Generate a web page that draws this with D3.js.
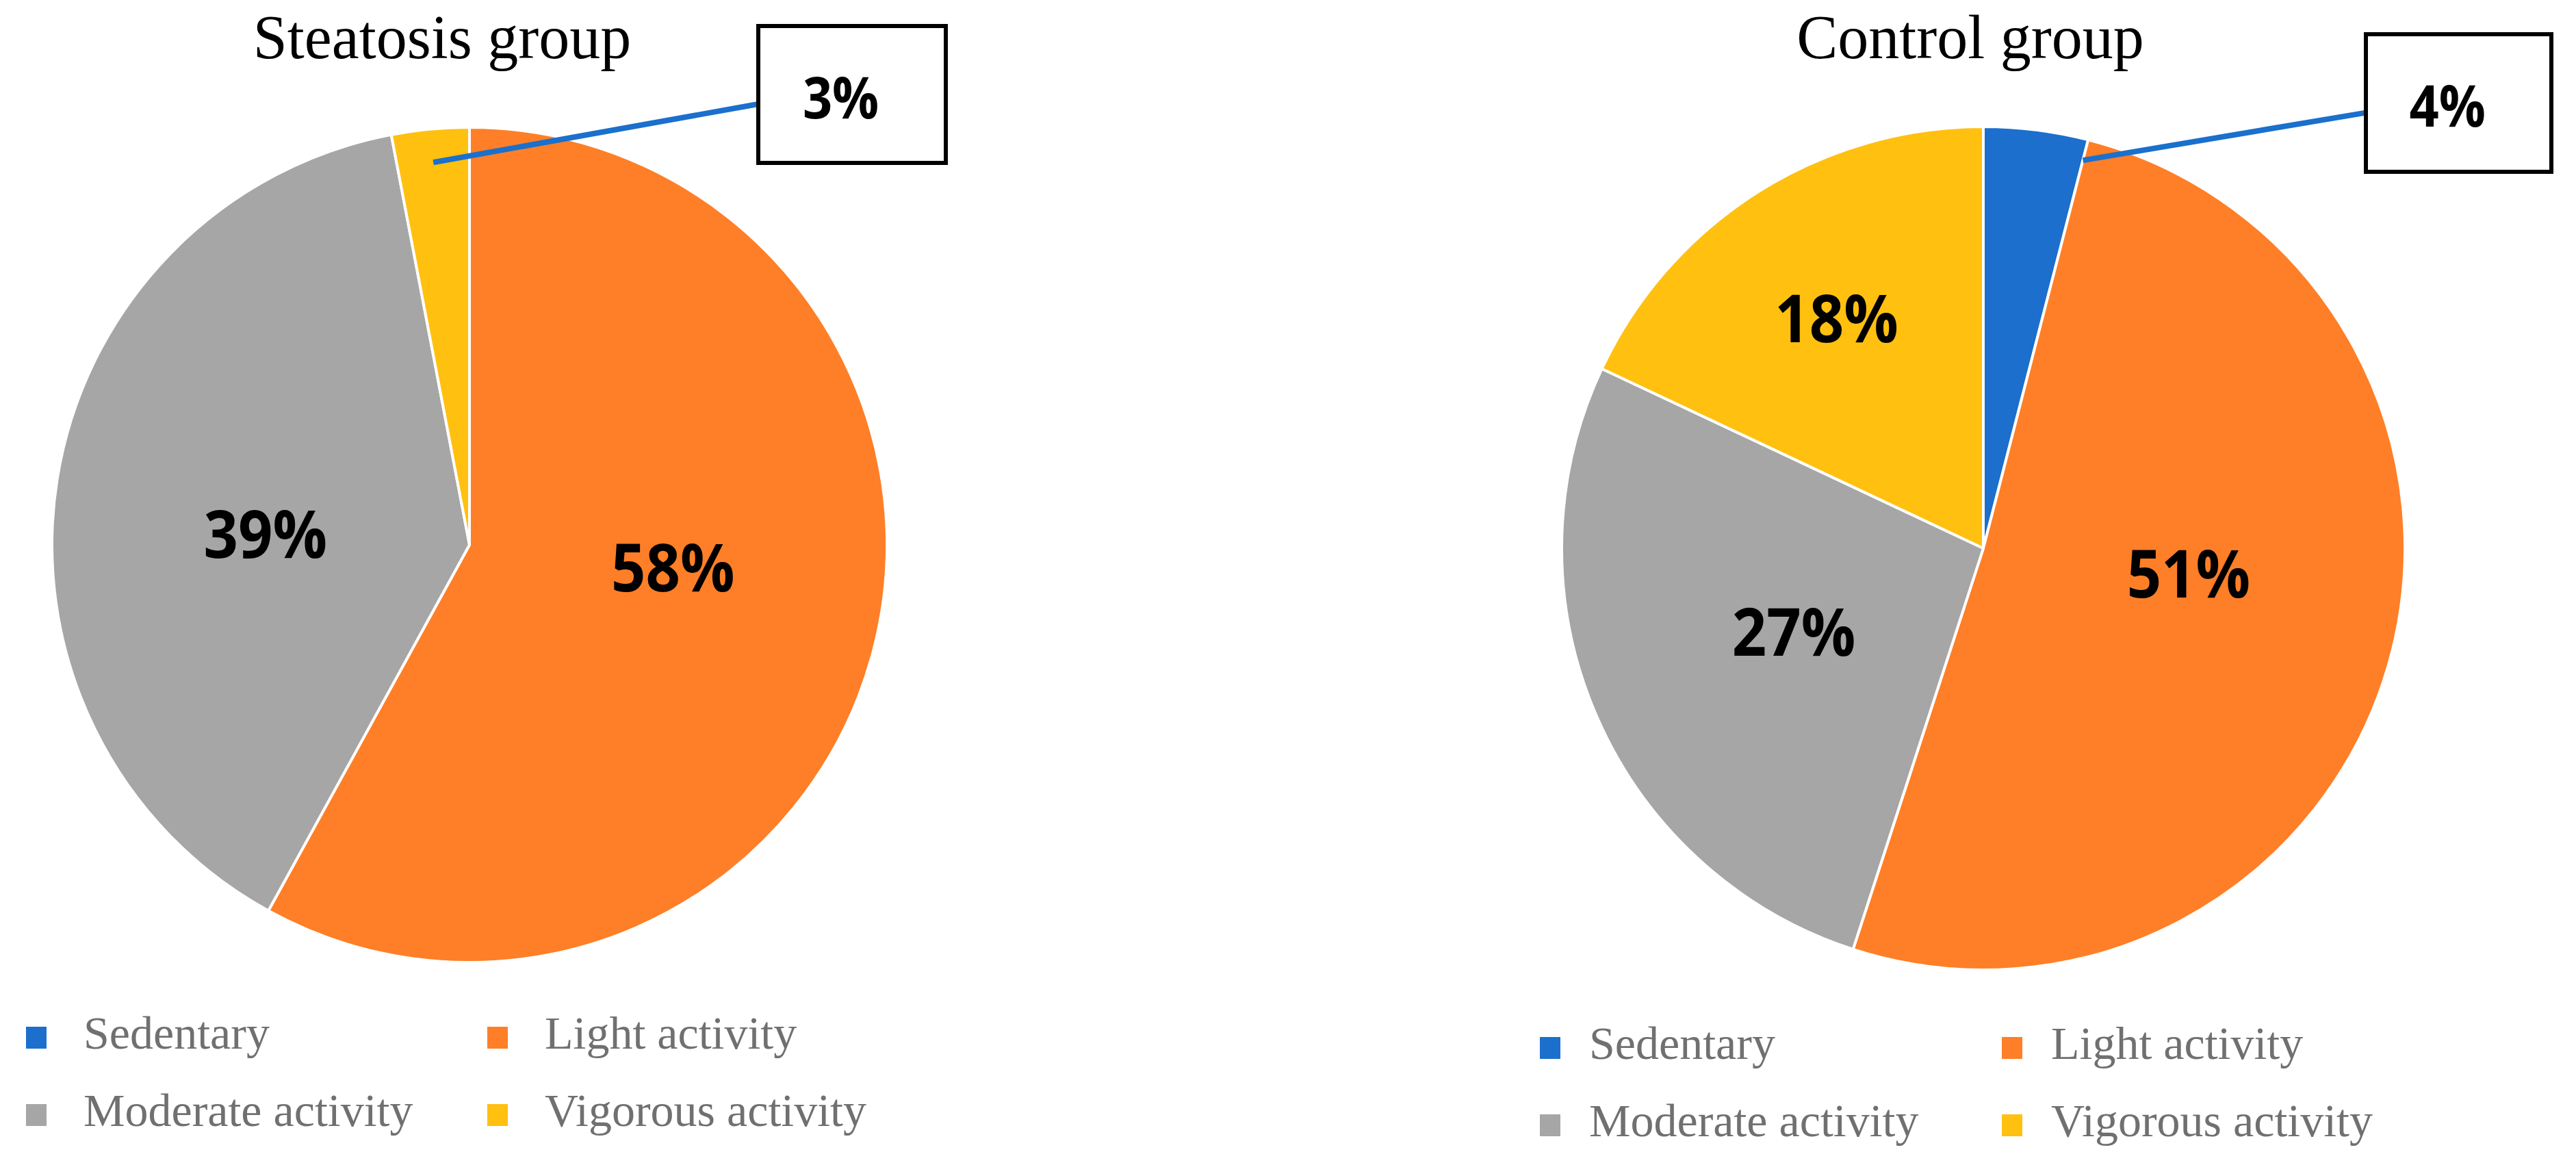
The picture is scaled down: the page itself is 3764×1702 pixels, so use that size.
<!DOCTYPE html>
<html>
<head>
<meta charset="utf-8">
<script src="https://cdn.jsdelivr.net/npm/d3@7/dist/d3.min.js"></script>
<style>
  html, body { margin: 0; padding: 0; background: #fff; }
  svg { display: block; }
</style>
</head>
<body>
<div id="chart"></div>
<script>
// data
const categories = ["Sedentary", "Light activity", "Moderate activity", "Vigorous activity"];
const groupTitles = ["Steatosis group", "Control group"];
const steatosisValues = [0, 58, 39, 3];
const controlValues = [4, 51, 27, 18];
const colors = ["#1c6fcc", "#fe7f27", "#a6a6a6", "#ffc010"];

const width = 3764, height = 1702;

// layout of the two panels
const panels = [
  {title: groupTitles[0], values: steatosisValues, cx: 686, cy: 796, r: 610, titleX: 646,
   box: {x: 1108, y: 38, w: 274, h: 200}, anchor: {t: 0.5, k: 0.92},
   legend: {cols: [38, 712], rows: [1516, 1629], textGap: 84}},
  {title: groupTitles[1], values: controlValues, cx: 2898, cy: 801, r: 616, titleX: 2879,
   box: {x: 3457, y: 50, w: 271, h: 201}, anchor: {t: 1.0, k: 0.95},
   legend: {cols: [2250, 2925], rows: [1531, 1644], textGap: 72}}
];

const svg = d3.select("#chart").append("svg")
  .attr("width", width)
  .attr("height", height);

const color = d3.scaleOrdinal().domain(categories).range(colors);

const pie = d3.pie().sort(null).value(d => d.value);

function squeeze(sel, f) {
  sel.each(function() {
    const n = this.getComputedTextLength();
    d3.select(this).attr("textLength", n * f).attr("lengthAdjust", "spacingAndGlyphs");
  });
}

panels.forEach(p => {
  const data = categories.map((c, i) => ({cat: c, value: p.values[i]}));
  const arcs = pie(data);
  const total = d3.sum(p.values);

  const g = svg.append("g").attr("transform", "translate(" + p.cx + "," + p.cy + ")");

  const arc = d3.arc().innerRadius(0).outerRadius(p.r);

  g.selectAll("path")
    .data(arcs.filter(d => d.data.value > 0))
    .enter().append("path")
    .attr("d", arc)
    .attr("fill", d => color(d.data.cat))
    .attr("stroke", "#fff")
    .attr("stroke-width", 4)
    .attr("stroke-linejoin", "round");

  // inner percentage labels (big slices pulled toward the horizontal, like Excel's best fit)
  arcs.filter(d => d.data.value / total >= 0.05).forEach(d => {
    const share = d.data.value / total;
    const k = share < 0.2 ? 0.65 : 0.49;
    let a = (d.startAngle + d.endAngle) / 2;
    if (share > 0.3) {
      const h = a < Math.PI ? Math.PI / 2 : 3 * Math.PI / 2;
      a = a + (h - a) * 0.6;
    }
    g.append("text")
      .attr("x", Math.sin(a) * p.r * k)
      .attr("y", -Math.cos(a) * p.r * k)
      .attr("text-anchor", "middle")
      .attr("dominant-baseline", "central")
      .attr("font-family", "'Open Sans', sans-serif")
      .attr("font-weight", 700)
      .attr("font-size", 96)
      .attr("fill", "#000")
      .text(Math.round(share * 100) + "%")
      .call(squeeze, 0.92);
  });

  // callout for the small slice
  arcs.filter(d => d.data.value > 0 && d.data.value / total < 0.05).forEach(d => {
    const a = d.startAngle + (d.endAngle - d.startAngle) * p.anchor.t;
    const ax = p.cx + Math.sin(a) * p.r * p.anchor.k;
    const ay = p.cy - Math.cos(a) * p.r * p.anchor.k;
    svg.append("line")
      .attr("x1", p.box.x).attr("y1", p.box.y + p.box.h * 0.57)
      .attr("x2", ax).attr("y2", ay)
      .attr("stroke", "#1a70cc")
      .attr("stroke-width", 8);
    svg.append("rect")
      .attr("x", p.box.x).attr("y", p.box.y)
      .attr("width", p.box.w).attr("height", p.box.h)
      .attr("fill", "#fff")
      .attr("stroke", "#000")
      .attr("stroke-width", 6);
    svg.append("text")
      .attr("x", p.box.x + p.box.w * 0.44)
      .attr("y", p.box.y + p.box.h * 0.51)
      .attr("text-anchor", "middle")
      .attr("dominant-baseline", "central")
      .attr("font-family", "'Open Sans', sans-serif")
      .attr("font-weight", 700)
      .attr("font-size", 84)
      .attr("fill", "#000")
      .text(Math.round(d.data.value / total * 100) + "%")
      .call(squeeze, 0.9);
  });

  // title
  svg.append("text")
    .attr("x", p.titleX)
    .attr("y", 85)
    .attr("text-anchor", "middle")
    .attr("font-family", "'Liberation Serif', serif")
    .attr("font-size", 90)
    .attr("fill", "#000")
    .text(p.title);

  // legend 2x2
  const lg = svg.append("g");
  categories.forEach((c, i) => {
    const x = p.legend.cols[i % 2];
    const y = p.legend.rows[Math.floor(i / 2)];
    lg.append("rect")
      .attr("x", x).attr("y", y - 16)
      .attr("width", 30).attr("height", 32)
      .attr("fill", color(c));
    lg.append("text")
      .attr("x", x + p.legend.textGap)
      .attr("y", y + 16)
      .attr("font-family", "'Liberation Serif', serif")
      .attr("font-size", 68)
      .attr("fill", "#707070")
      .text(c);
  });
});
</script>
</body>
</html>
